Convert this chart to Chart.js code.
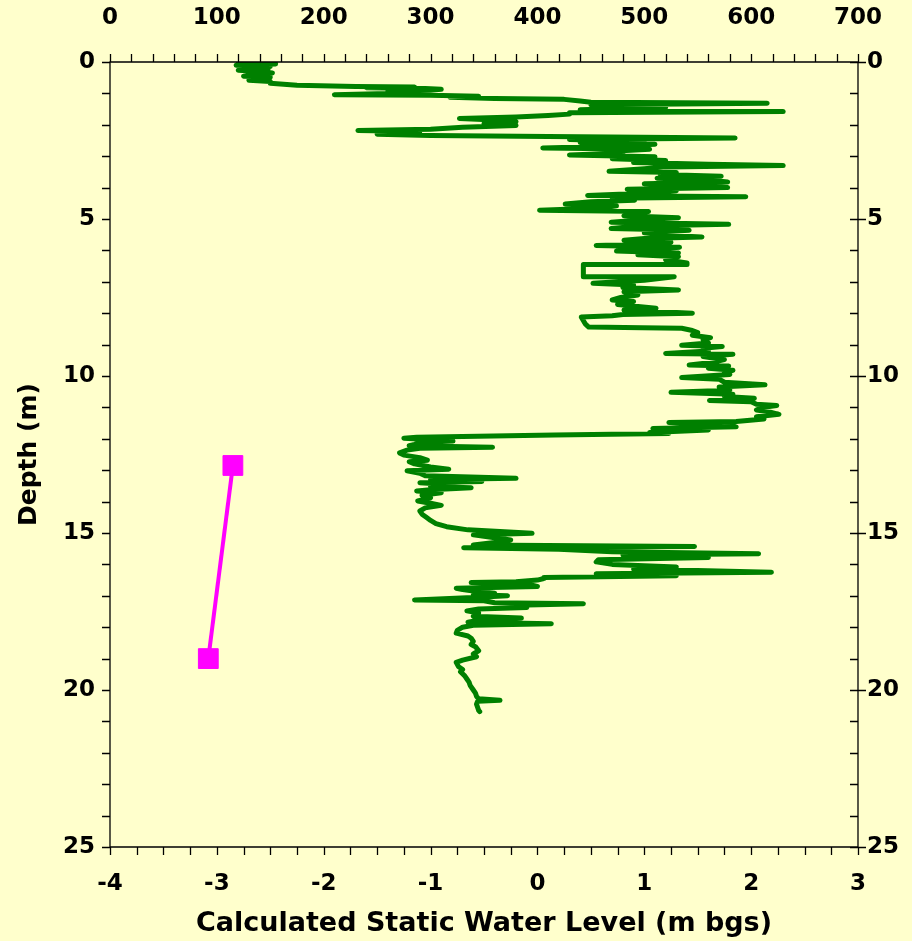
<!DOCTYPE html>
<html>
<head>
<meta charset="utf-8">
<script src="https://cdn.jsdelivr.net/npm/chart.js@4.4.1/dist/chart.umd.min.js"></script>
<style>
  html, body { margin: 0; padding: 0; background: #FFFFCC; }
  canvas { display: block; }
</style>
</head>
<body>
<canvas id="c" width="912" height="941"></canvas>
<script>
// ---- Data ----
// Green log trace: depth (m) and the value on the top axis (0-700)
const traceDepth = [
  0.00,0.03,0.06,0.10,0.14,0.18,0.22,0.26,0.30,0.35,0.40,0.45,0.48,0.52,0.58,0.62,0.68,0.74,0.78,0.80,
  0.82,0.84,0.87,0.90,0.93,0.98,1.04,1.06,1.09,1.12,1.16,1.19,1.24,1.28,1.31,1.36,1.45,1.52,1.58,1.62,
  1.66,1.70,1.75,1.80,1.85,1.90,1.96,2.02,2.08,2.14,2.18,2.21,2.25,2.30,2.34,2.37,2.42,2.47,2.52,
  2.56,2.62,2.68,2.74,2.78,2.84,2.90,2.96,3.02,3.08,3.14,3.20,3.26,3.30,3.34,3.40,3.48,3.52,3.58,3.64,
  3.70,3.76,3.82,3.88,3.94,4.00,4.05,4.10,4.18,4.25,4.29,4.34,4.40,4.45,4.52,4.58,4.65,4.72,4.76,4.82,
  4.90,4.96,5.02,5.10,5.17,5.22,5.30,5.36,5.44,5.52,5.57,5.62,5.68,5.74,5.80,5.84,5.90,5.96,6.02,6.08,
  6.14,6.20,6.30,6.40,6.45,6.45,6.84,6.84,6.95,7.05,7.10,7.18,7.26,7.32,7.42,7.50,7.58,7.63,7.72,7.84,
  7.90,8.00,8.04,8.08,8.12,8.35,8.44,8.46,8.48,8.55,8.62,8.70,8.78,8.85,8.95,9.02,9.06,9.12,9.20,9.28,
  9.31,9.38,9.48,9.56,9.65,9.68,9.75,9.82,9.88,9.95,10.05,10.10,10.20,10.28,10.35,10.45,10.52,10.58,10.65,10.71,
  10.78,10.82,10.90,10.94,11.00,11.08,11.15,11.22,11.30,11.37,11.45,11.48,11.55,11.62,11.67,11.72,11.80,11.83,11.88,11.95,
  11.98,12.03,12.07,12.12,12.18,12.22,12.27,12.30,12.36,12.45,12.52,12.60,12.68,12.73,12.80,12.90,12.97,13.02,13.10,13.18,
  13.26,13.30,13.36,13.40,13.46,13.52,13.56,13.62,13.66,13.72,13.80,13.88,13.98,14.05,14.12,14.20,14.30,14.40,14.50,14.60,
  14.70,14.80,14.90,15.01,15.06,15.15,15.22,15.30,15.38,15.43,15.47,15.52,15.60,15.66,15.70,15.78,15.85,15.92,16.00,16.08,
  16.15,16.25,16.30,16.36,16.42,16.45,16.50,16.55,16.58,16.62,16.70,16.76,16.80,16.87,16.92,16.97,17.00,17.05,17.13,17.16,
  17.22,17.25,17.30,17.37,17.42,17.48,17.55,17.65,17.71,17.78,17.84,17.89,17.94,18.00,18.10,18.19,18.28,18.35,18.45,18.55,
  18.62,18.75,18.85,18.94,19.05,19.12,19.25,19.35,19.42,19.55,19.65,19.75,19.85,20.00,20.10,20.20,20.28,20.33,20.36,20.45,
  20.55,20.65,20.69
];
const traceValue = [
  145,120,155,118,150,125,148,120,140,152,135,125,150,140,130,150,150,175,230,285,
  240,295,310,300,260,290,210,300,345,318,360,425,440,450,615,450,520,440,630,430,
  430,410,380,327,360,380,350,380,330,300,232,290,260,250,300,410,585,430,500,
  440,510,470,405,505,470,480,430,510,470,520,490,560,630,520,500,467,530,515,572,
  512,560,578,500,540,578,484,530,500,447,595,470,491,450,426,474,460,402,504,490,
  481,532,500,469,579,495,469,542,500,520,554,500,481,525,510,455,533,510,474,532,
  494,532,520,540,540,443,443,528,500,452,490,480,532,481,494,478,470,490,475,511,
  481,545,480,470,441,445,448,498,535,545,550,545,562,555,560,535,573,555,560,520,
  583,555,575,565,542,579,560,583,575,580,535,570,575,613,570,580,525,583,575,603,
  561,600,605,624,610,605,618,626,605,612,586,523,570,586,508,560,505,523,416,287,
  275,300,321,290,285,280,358,290,278,271,275,290,297,280,285,300,317,278,290,295,
  380,300,348,290,320,300,338,300,287,310,292,300,288,300,310,295,290,292,296,300,
  305,315,335,395,340,360,375,360,340,547,331,420,470,607,480,560,457,455,470,530,
  490,619,455,530,406,406,400,380,338,390,400,324,330,345,360,340,372,345,285,350,
  360,443,380,390,345,334,345,340,385,345,335,413,340,330,325,324,335,338,340,338,
  342,345,340,343,330,324,326,330,328,332,334,336,337,340,342,343,345,365,344,343,
  344,345,346
];
// Magenta series: calculated static water level (m bgs) vs depth
const swlLevel = [-2.85, -3.08];
const swlDepth = [12.85, 19.0];

// Axis tick labels
const topTicks = [0, 100, 200, 300, 400, 500, 600, 700];
const bottomTicks = [-4, -3, -2, -1, 0, 1, 2, 3];
const depthTicks = [0, 5, 10, 15, 20, 25];

const xTitle = 'Calculated Static Water Level (m bgs)';
const yTitle = 'Depth (m)';

// ---- Build ----
const traceData = traceDepth.map((d, i) => ({ x: traceValue[i], y: d }));
const swlData = swlDepth.map((d, i) => ({ x: swlLevel[i], y: d }));

const FONT = 'DejaVu Sans';
const tickFont = { family: FONT, size: 23, weight: 'bold' };

const bgPlugin = {
  id: 'bg',
  beforeDraw(chart) {
    const ctx = chart.ctx;
    ctx.save();
    ctx.fillStyle = '#FFFFCC';
    ctx.fillRect(0, 0, chart.width, chart.height);
    ctx.restore();
  }
};

const tickPlugin = {
  id: 'tickMarks',
  afterDraw(chart) {
    const ctx = chart.ctx;
    const a = chart.chartArea;
    const sx = chart.scales.x, sx2 = chart.scales.x2, sy = chart.scales.y;
    ctx.save();
    ctx.strokeStyle = '#000';
    ctx.lineWidth = 1.3;
    ctx.beginPath();
    // frame
    ctx.rect(a.left, a.top, a.right - a.left, a.bottom - a.top);
    // top axis ticks (outward)
    for (let v = topTicks[0]; v <= topTicks[topTicks.length - 1] + 1e-9; v += 20) {
      const p = Math.round(sx2.getPixelForValue(v)) + 0.5;
      ctx.moveTo(p, a.top); ctx.lineTo(p, a.top - 8);
    }
    // bottom axis ticks (outward)
    for (let v = bottomTicks[0]; v <= bottomTicks[bottomTicks.length - 1] + 1e-9; v += 0.25) {
      const p = Math.round(sx.getPixelForValue(v)) + 0.5;
      ctx.moveTo(p, a.bottom); ctx.lineTo(p, a.bottom + 8);
    }
    // left (outward) and right (inward, majors crossing) ticks
    for (let v = depthTicks[0]; v <= depthTicks[depthTicks.length - 1] + 1e-9; v += 1) {
      const p = Math.round(sy.getPixelForValue(v)) + 0.5;
      ctx.moveTo(a.left, p); ctx.lineTo(a.left - 8, p);
      const major = Math.abs(v % 5) < 1e-9;
      ctx.moveTo(a.right - 8, p); ctx.lineTo(a.right + (major ? 8 : 0), p);
    }
    ctx.stroke();
    ctx.restore();
  }
};

new Chart(document.getElementById('c'), {
  type: 'scatter',
  data: {
    datasets: [
      {
        label: 'Log',
        data: traceData,
        xAxisID: 'x2', yAxisID: 'y',
        showLine: true,
        borderColor: '#008000',
        backgroundColor: '#008000',
        borderWidth: 5,
        borderJoinStyle: 'round',
        borderCapStyle: 'round',
        pointRadius: 0,
        tension: 0
      },
      {
        label: 'Static water level',
        data: swlData,
        xAxisID: 'x', yAxisID: 'y',
        showLine: true,
        borderColor: '#FF00FF',
        backgroundColor: '#FF00FF',
        borderWidth: 4,
        pointStyle: 'rect',
        pointRadius: 14,
        pointBorderWidth: 1,
        pointBorderColor: '#FF00FF',
        pointBackgroundColor: '#FF00FF',
        clip: false
      }
    ]
  },
  options: {
    responsive: false,
    animation: false,
    devicePixelRatio: 1,
    layout: { padding: 0 },
    plugins: { legend: { display: false }, tooltip: { enabled: false } },
    scales: {
      x: {
        type: 'linear', position: 'bottom',
        min: bottomTicks[0], max: bottomTicks[bottomTicks.length - 1],
        afterBuildTicks: s => { s.ticks = bottomTicks.map(v => ({ value: v })); },
        afterFit: s => { s.height = 94; },
        grid: { display: false, drawTicks: false },
        border: { display: false },
        ticks: { font: tickFont, color: '#000', padding: 23, maxRotation: 0, autoSkip: false },
        title: { display: true, text: xTitle, color: '#000',
                 font: { family: FONT, size: 27, weight: 'bold' }, padding: { top: 0, bottom: 1 } }
      },
      x2: {
        type: 'linear', position: 'top', axis: 'x',
        min: topTicks[0], max: topTicks[topTicks.length - 1],
        afterBuildTicks: s => { s.ticks = topTicks.map(v => ({ value: v })); },
        afterFit: s => { s.height = 62; },
        grid: { display: false, drawTicks: false },
        border: { display: false },
        ticks: { font: tickFont, color: '#000', padding: 30, maxRotation: 0, autoSkip: false }
      },
      y: {
        type: 'linear', position: 'left', reverse: true,
        min: depthTicks[0], max: depthTicks[depthTicks.length - 1],
        afterBuildTicks: s => { s.ticks = depthTicks.map(v => ({ value: v })); },
        afterFit: s => { s.width = 110; },
        grid: { display: false, drawTicks: false },
        border: { display: false },
        ticks: { font: tickFont, color: '#000', padding: 15, autoSkip: false },
        title: { display: true, text: yTitle, color: '#000',
                 font: { family: FONT, size: 25, weight: 'bold' }, padding: { top: 14, bottom: 0 } }
      },
      y2: {
        type: 'linear', position: 'right', axis: 'y', reverse: true,
        min: depthTicks[0], max: depthTicks[depthTicks.length - 1],
        afterBuildTicks: s => { s.ticks = depthTicks.map(v => ({ value: v })); },
        afterFit: s => { s.width = 52; },
        grid: { display: false, drawTicks: false },
        border: { display: false },
        ticks: { font: tickFont, color: '#000', padding: 9, autoSkip: false }
      }
    }
  },
  plugins: [bgPlugin, tickPlugin]
});
</script>
</body>
</html>
